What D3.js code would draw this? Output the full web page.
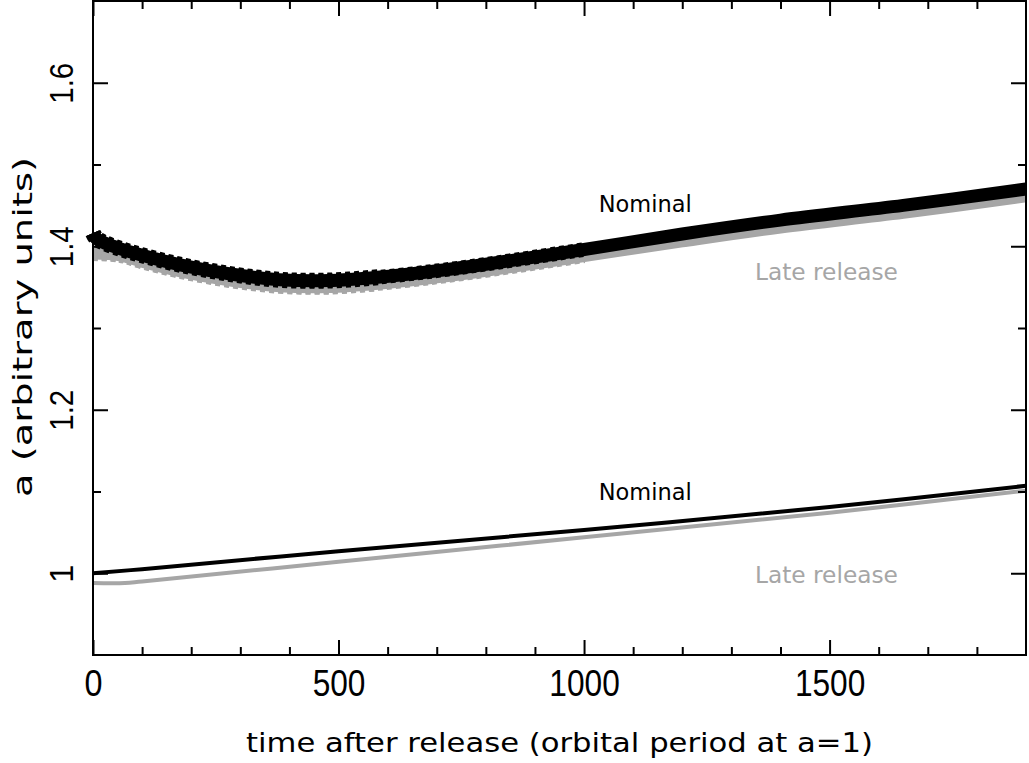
<!DOCTYPE html>
<html><head><meta charset="utf-8">
<script src="https://cdn.jsdelivr.net/npm/d3@7"></script>
<style>body{margin:0;background:#fff}svg{display:block}</style>
</head><body>
<script>
// Data (time after release in orbital periods, a in arbitrary units)
const upperNominalT = [0, 6, 20, 55, 100, 180, 280, 380, 480, 580, 700, 800, 1000, 1200, 1400, 1650, 1900];
const upperNominalA = [1.416, 1.410, 1.405, 1.397, 1.389, 1.377, 1.366, 1.359, 1.358, 1.362, 1.370, 1.378, 1.396, 1.415, 1.432, 1.450, 1.470];
const upperLateT = [0, 55, 100, 180, 280, 380, 480, 580, 700, 800, 1000, 1200, 1400, 1650, 1900];
const upperLateA = [1.391, 1.389, 1.381, 1.369, 1.358, 1.351, 1.350, 1.354, 1.362, 1.370, 1.388, 1.406, 1.423, 1.441, 1.461];
const lowerNominalT = [0, 100, 500, 1000, 1500, 1900];
const lowerNominalA = [1.000, 1.005, 1.027, 1.053, 1.081, 1.107];
const lowerLateT = [0, 65, 100, 500, 1000, 1500, 1900];
const lowerLateA = [0.988, 0.988, 0.990, 1.014, 1.044, 1.074, 1.101];
const xMajorTicks = [0, 500, 1000, 1500];
const xTickLabels = ["0", "500", "1000", "1500"];
const xMinorTicks = [100, 200, 300, 400, 600, 700, 800, 900, 1100, 1200, 1300, 1400, 1600, 1700, 1800];
const yMajorTicks = [1.0, 1.2, 1.4, 1.6];
const yTickLabels = ["1", "1.2", "1.4", "1.6"];
const yMinorTicks = [1.1, 1.3, 1.5];
const labels = [
  {text: "Nominal", t: 1030, a: 1.442, color: "#000", len: 93},
  {text: "Late release", t: 1348, a: 1.359, color: "#a6a6a6", len: 143},
  {text: "Nominal", t: 1030, a: 1.0897, color: "#000", len: 93},
  {text: "Late release", t: 1348, a: 0.9884, color: "#a6a6a6", len: 143}
];

const W = 1029, H = 763;
const svg = d3.select("body").append("svg").attr("width", W).attr("height", H);
const x = d3.scaleLinear().domain([0, 1900]).range([93, 1026]);
const y = d3.scaleLinear().domain([0.9, 1.7]).range([655, 1]);
const line = d3.line().x(d => x(d[0])).y(d => y(d[1])).curve(d3.curveCatmullRom.alpha(0.5));
const zip = (a, b) => a.map((v, i) => [v, b[i]]);
const upTo = (arr, tmax) => arr.filter(d => d[0] <= tmax);

const grey = "#a6a6a6";
const uLate = zip(upperLateT, upperLateA);
const uNom = zip(upperNominalT, upperNominalA);
// upper late release band, with a ragged (oscillating) edge in its early part
svg.append("path").datum(uLate).attr("d", line)
  .attr("fill", "none").attr("stroke", grey).attr("stroke-width", 12);
svg.append("path").datum(upTo(uLate, 1000)).attr("d", line)
  .attr("fill", "none").attr("stroke", grey).attr("stroke-width", 14).attr("stroke-dasharray", "5,4");
svg.append("path").datum(upTo(uLate, 580)).attr("d", line)
  .attr("fill", "none").attr("stroke", grey).attr("stroke-width", 15).attr("stroke-dasharray", "5,4");
// upper nominal band
svg.append("path").datum(uNom).attr("d", line)
  .attr("fill", "none").attr("stroke", "#000").attr("stroke-width", 13);
svg.append("path").datum(upTo(uNom, 1000)).attr("d", line)
  .attr("fill", "none").attr("stroke", "#000").attr("stroke-width", 14.5).attr("stroke-dasharray", "5,4");
svg.append("path").datum(upTo(uNom, 580)).attr("d", line)
  .attr("fill", "none").attr("stroke", "#000").attr("stroke-width", 16).attr("stroke-dasharray", "5,4");
// lower curves
svg.append("path").datum(zip(lowerLateT, lowerLateA)).attr("d", line)
  .attr("fill", "none").attr("stroke", grey).attr("stroke-width", 4);
svg.append("path").datum(zip(lowerNominalT, lowerNominalA)).attr("d", line)
  .attr("fill", "none").attr("stroke", "#000").attr("stroke-width", 4);

// Axes with inward ticks
function styleAxis(g) {
  g.select(".domain").remove();
  g.selectAll(".tick line").attr("stroke", "#000").attr("stroke-width", 2);
}
const tickFont = "'Liberation Sans', Arial, sans-serif";
const labW = s => s.length === 1 ? 18 : (s.indexOf(".") >= 0 ? 41 : s.length * 17.6);
svg.append("g").attr("transform", "translate(0,655)")
  .call(d3.axisBottom(x).tickValues(xMajorTicks).tickSize(-15).tickFormat((d, i) => xTickLabels[i]))
  .call(styleAxis)
  .call(g => g.selectAll("text").attr("y", 41).attr("dy", 0)
    .attr("font-size", 36).attr("font-family", tickFont).attr("fill", "#000")
    .attr("textLength", function() { return labW(this.textContent); })
    .attr("lengthAdjust", "spacingAndGlyphs"));
svg.append("g").attr("transform", "translate(0,655)")
  .call(d3.axisBottom(x).tickValues(xMinorTicks).tickSize(-8).tickFormat(""))
  .call(styleAxis);
svg.append("g").attr("transform", "translate(0,1)")
  .call(d3.axisTop(x).tickValues(xMajorTicks).tickSize(-15).tickFormat(""))
  .call(styleAxis);
svg.append("g").attr("transform", "translate(0,1)")
  .call(d3.axisTop(x).tickValues(xMinorTicks).tickSize(-8).tickFormat(""))
  .call(styleAxis);
svg.append("g").attr("transform", "translate(93,0)")
  .call(d3.axisLeft(y).tickValues(yMajorTicks).tickSize(-15).tickFormat((d, i) => yTickLabels[i]))
  .call(styleAxis)
  .call(g => g.selectAll("text").attr("x", null).attr("dy", 0)
    .attr("transform", "translate(-20,0) rotate(-90)").attr("text-anchor", "middle")
    .attr("font-size", 34).attr("font-family", tickFont).attr("fill", "#000")
    .attr("textLength", function() { return labW(this.textContent); })
    .attr("lengthAdjust", "spacingAndGlyphs"));
svg.append("g").attr("transform", "translate(93,0)")
  .call(d3.axisLeft(y).tickValues(yMinorTicks).tickSize(-8).tickFormat(""))
  .call(styleAxis);
svg.append("g").attr("transform", "translate(1026,0)")
  .call(d3.axisRight(y).tickValues(yMajorTicks).tickSize(-15).tickFormat(""))
  .call(styleAxis);
svg.append("g").attr("transform", "translate(1026,0)")
  .call(d3.axisRight(y).tickValues(yMinorTicks).tickSize(-8).tickFormat(""))
  .call(styleAxis);

// Frame
svg.append("rect").attr("x", 93).attr("y", 1).attr("width", 933).attr("height", 654)
  .attr("fill", "none").attr("stroke", "#000").attr("stroke-width", 2);

const titleFont = "'DejaVu Sans', Lato, sans-serif";
svg.append("text").attr("x", 559.5).attr("y", 752).attr("text-anchor", "middle")
  .attr("font-family", titleFont).attr("font-size", 27)
  .attr("textLength", 627).attr("lengthAdjust", "spacingAndGlyphs")
  .text("time after release (orbital period at a=1)");
svg.append("text").attr("transform", "translate(32,327) rotate(-90)").attr("text-anchor", "middle")
  .attr("font-family", titleFont).attr("font-size", 26)
  .attr("textLength", 340).attr("lengthAdjust", "spacingAndGlyphs")
  .text("a (arbitrary units)");

svg.selectAll("text.lbl").data(labels).enter().append("text").attr("class", "lbl")
  .attr("x", d => x(d.t)).attr("y", d => y(d.a))
  .attr("font-family", titleFont).attr("font-size", 23).attr("fill", d => d.color)
  .attr("textLength", d => d.len).attr("lengthAdjust", "spacingAndGlyphs")
  .text(d => d.text);
</script>
</body></html>
